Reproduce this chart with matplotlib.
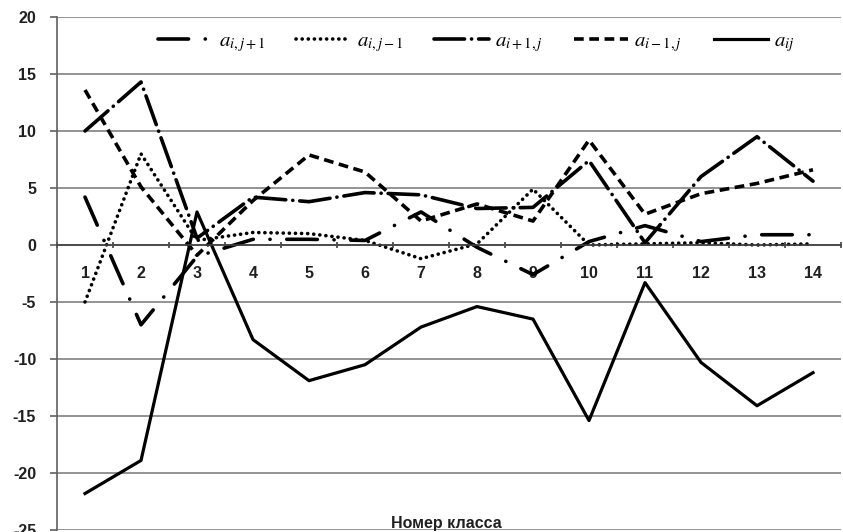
import numpy as np
import matplotlib
matplotlib.use("Agg")
import matplotlib.pyplot as plt

plt.rcParams['font.family'] = ['Liberation Sans Narrow', 'Liberation Sans', 'DejaVu Sans']
plt.rcParams['mathtext.fontset'] = 'stix'
plt.rcParams['lines.scale_dashes'] = False
plt.rcParams['axes.unicode_minus'] = False

# class numbers on the x axis
classes = np.arange(1, 15)

# coefficient series per class
a_i_jp1 = [4.2, -7.0, -1.0, 0.5, 0.5, 0.4, 2.9, -0.2, -2.6, 0.3, 1.7, 0.3, 0.9, 0.9]
a_i_jm1 = [-5.0, 8.0, 0.4, 1.1, 1.0, 0.4, -1.2, 0.1, 4.9, 0.0, 0.1, 0.2, 0.0, 0.1]
a_ip1_j = [10.0, 14.3, 0.6, 4.2, 3.8, 4.6, 4.4, 3.2, 3.3, 7.4, 0.2, 6.0, 9.5, 5.6]
a_im1_j = [13.6, 5.1, -0.9, 3.9, 7.9, 6.4, 2.1, 3.6, 2.1, 9.2, 2.7, 4.5, 5.4, 6.6]
a_ij = [-21.8, -18.9, 2.9, -8.3, -11.9, -10.5, -7.2, -5.4, -6.5, -15.4, -3.3, -10.3, -14.1, -11.2]

labels = [r'$a_{i,j+1}$', r'$a_{i,j-1}$', r'$a_{i+1,j}$', r'$a_{i-1,j}$', r'$a_{ij}$']

fig = plt.figure(figsize=(8.43, 5.32), dpi=100)
ax = fig.add_axes([57 / 843, 2 / 532, 784 / 843, 513 / 532])

lw = 2.6
ax.plot(classes, a_i_jp1, color='black', lw=lw, dashes=(22, 12, 0.1, 12),
        dash_capstyle='round', label=labels[0])
ax.plot(classes, a_i_jm1, color='black', lw=lw, dashes=(0.1, 4.3),
        dash_capstyle='round', label=labels[1])
ax.plot(classes, a_ip1_j, color='black', lw=lw, dashes=(22, 5, 0.1, 5),
        dash_capstyle='round', label=labels[2])
ax.plot(classes, a_im1_j, color='black', lw=lw, dashes=(7, 4),
        label=labels[3])
ax.plot(classes, a_ij, color='black', lw=2.3, label=labels[4])

ax.set_xlim(0.5, 14.5)
ax.set_ylim(-25, 20)
ax.set_yticks(np.arange(-25, 21, 5))
ax.yaxis.grid(True, color='#808080', lw=1.2)
ax.set_axisbelow(True)

for s in ['top', 'right']:
    ax.spines[s].set_visible(False)
ax.spines['left'].set_color('#606060')
ax.spines['left'].set_linewidth(1.2)
ax.spines['bottom'].set_position(('data', 0))
ax.spines['bottom'].set_color('#404040')
ax.spines['bottom'].set_linewidth(1.2)

# category ticks between classes, labels at the classes themselves
ax.set_xticks(classes)
ax.set_xticklabels([str(c) for c in classes])
ax.set_xticks(np.arange(0.5, 15, 1), minor=True)
ax.tick_params(axis='x', which='major', length=0, pad=15, labelsize=11.5)
ax.tick_params(axis='x', which='minor', length=5, width=1.2, color='#404040',
               direction='inout')
ax.tick_params(axis='y', length=5, width=1.2, color='#606060', pad=10, labelsize=11.5)
for t in ax.get_xticklabels() + ax.get_yticklabels():
    t.set_fontweight('bold')
    t.set_color('#202020')

ax.text(7.45, -24.4, 'Номер класса', ha='center', va='center',
        fontsize=11.5, fontweight='bold', color='#202020')

ax.legend(loc='center', bbox_to_anchor=(0.535, 0.95), ncol=5, frameon=False,
          fontsize=15, handlelength=2.6, handletextpad=0.3, columnspacing=1.5)

fig.savefig('out.png', dpi=100)
